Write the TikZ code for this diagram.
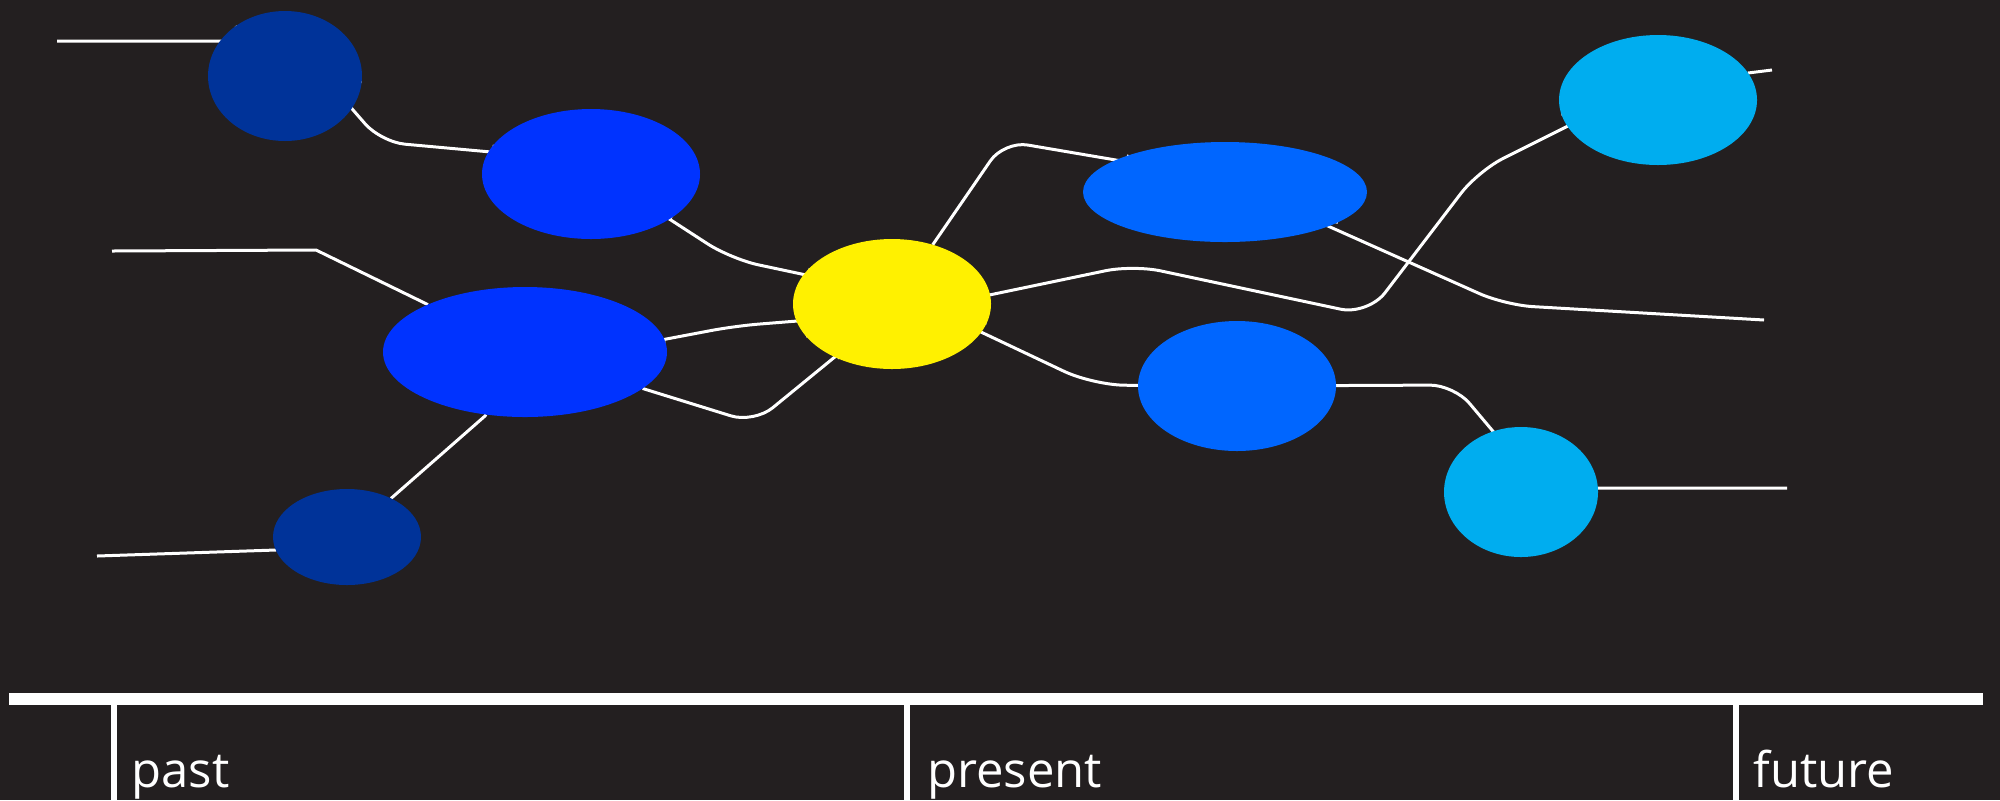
\documentclass[tikz,border=0pt]{standalone}
\usepackage{fontspec}
\setmainfont{Open Sans}
\usetikzlibrary{shapes.geometric,backgrounds}
\definecolor{bgc}{HTML}{231F20}
\definecolor{dkblue}{HTML}{003399}
\definecolor{blueA}{HTML}{0033FF}
\definecolor{blueB}{HTML}{0066FF}
\definecolor{cyanc}{HTML}{00ADEF}
\definecolor{yel}{HTML}{FFF100}
\begin{document}
\begin{tikzpicture}[x=0.5pt,y=-0.5pt,
  blob/.style={ellipse,draw=none,inner sep=0pt,outer sep=0pt},
  link/.style={draw=white,line width=1.5pt},
  era/.style={anchor=base west,inner sep=0pt,text=white,font=\fontsize{24.5}{29}\selectfont}]
\useasboundingbox (0,0) rectangle (2000,800);
\begin{scope}[on background layer]
\fill[bgc] (0,0) rectangle (2000,800);
\end{scope}

% ellipses
\node[blob,fill=dkblue,minimum width=77pt,minimum height=65pt] (e1) at (285,76) {};
\node[blob,fill=blueA,minimum width=109pt,minimum height=65pt] (e2) at (591,174) {};
\node[blob,fill=blueA,minimum width=142pt,minimum height=65pt] (e3) at (525,352) {};
\node[blob,fill=dkblue,minimum width=74pt,minimum height=48pt] (e4) at (347,537) {};
\node[blob,fill=yel,minimum width=99pt,minimum height=65pt] (y) at (892,304) {};
\node[blob,fill=blueB,minimum width=142pt,minimum height=50pt] (e6) at (1225,192) {};
\node[blob,fill=blueB,minimum width=99pt,minimum height=65pt] (e7) at (1237,386) {};
\node[blob,fill=cyanc,minimum width=99pt,minimum height=65pt] (e8) at (1658,100) {};
\node[blob,fill=cyanc,minimum width=77pt,minimum height=65pt] (e9) at (1521,492) {};

% free ends
\coordinate (f1) at (57,41);
\coordinate (f4) at (112,251);
\coordinate (f8) at (97,556);
\coordinate (f11) at (1764,320);
\coordinate (f12) at (1772,70);
\coordinate (f15) at (1787,488);

% connectors
\begin{scope}[on background layer]
\draw[link] (f1) -- (250,41) -- (e1);
\draw[link,rounded corners=12pt] (e1) -- (326,79) -- (381,142) -- (524,155) -- (e2);
\draw[link,rounded corners=14pt] (e2) -- (640,200) -- (731,259) -- (839,282) -- (y);
\draw[link] (f4) -- (316,250) -- (e3);
\draw[link,rounded corners=12pt] (e3) -- (640,344) -- (735,326) -- (860,316) -- (y);
\draw[link,rounded corners=12pt] (e3) -- (754,423) -- (858,338) -- (y);
\draw[link] (e3) -- (485,416) -- (e4);
\draw[link] (f8) -- (276,550) -- (e4);
\draw[link,rounded corners=12pt] (y) -- (1004,141) -- (1157,167) -- (e6);
\draw[link,rounded corners=14pt] (y) -- (951,303) -- (1133,265) -- (1368,315) -- (1478,171) -- (1604,108) -- (e8);
\draw[link,rounded corners=14pt] (e6) -- (1292,210) -- (1505,305) -- (f11);
\draw[link] (e8) -- (1748,73) -- (f12);
\draw[link,rounded corners=16pt] (y) -- (945,315) -- (1093,385) -- (e7);
\draw[link,rounded corners=12pt] (e7) -- (1454,385) -- (1513,455) -- (e9);
\draw[link] (e9) -- (1600,488) -- (f15);
\end{scope}

% timeline
\fill[white] (9,693) rectangle (1983,705);
\fill[white] (111,705) rectangle (117,800);
\fill[white] (904,705) rectangle (910,800);
\fill[white] (1733,705) rectangle (1739,800);
\node[era] (past) at (131,787) {past};
\node[era] (present) at (927,787) {present};
\node[era] (future) at (1753,787) {future};
\end{tikzpicture}
\end{document}
